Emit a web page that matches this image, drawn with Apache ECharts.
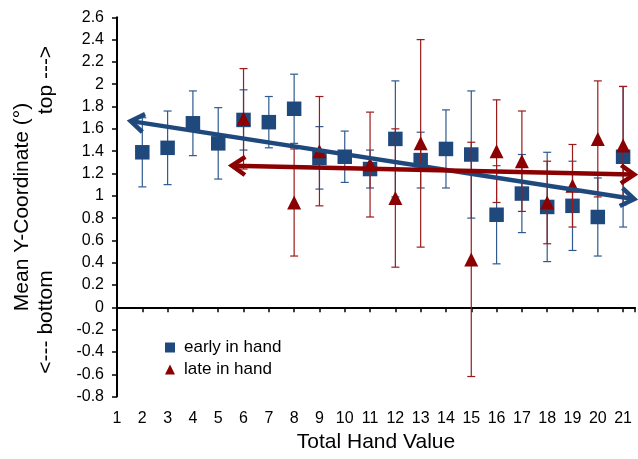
<!DOCTYPE html>
<html>
<head>
<meta charset="utf-8">
<script src="https://cdn.jsdelivr.net/npm/echarts@6/dist/echarts.min.js"></script>
<style>
html, body { margin: 0; padding: 0; background: #fff; }
#main { width: 638px; height: 459px; }
</style>
</head>
<body>
<div id="main"></div>
<script>
// values
var earlyHands = [2, 3, 4, 5, 6, 7, 8, 9, 10, 11, 12, 13, 14, 15, 16, 17, 18, 19, 20, 21];
var earlyMean = [1.39, 1.43, 1.65, 1.47, 1.68, 1.66, 1.78, 1.34, 1.35, 1.24, 1.51, 1.32, 1.42, 1.37, 0.83, 1.02, 0.90, 0.91, 0.81, 1.35];
var earlyErr = [0.31, 0.33, 0.29, 0.32, 0.27, 0.23, 0.31, 0.28, 0.23, 0.17, 0.52, 0.25, 0.35, 0.57, 0.44, 0.35, 0.49, 0.40, 0.35, 0.63];

var lateHands = [6, 8, 9, 11, 12, 13, 15, 16, 17, 18, 19, 20, 21];
var lateMean = [1.69, 0.94, 1.40, 1.28, 0.98, 1.47, 0.43, 1.40, 1.31, 0.94, 1.09, 1.51, 1.45];
var lateErr = [0.45, 0.48, 0.49, 0.47, 0.62, 0.93, 1.05, 0.46, 0.45, 0.37, 0.37, 0.52, 0.53];

// trend lines (x1, y1, x2, y2), drawn with arrow heads on both ends
var earlyTrend = [1.54, 1.67, 21.44, 0.97];
var lateTrend = [5.54, 1.27, 21.44, 1.19];

var FONT = 'Liberation Sans, Arial, sans-serif';
var BLUE = '#1F497D';
var RED = '#8B0000';

var chart = echarts.init(document.getElementById('main'));

function zip3(xs, ms, es) {
    var out = [];
    for (var i = 0; i < xs.length; i++) out.push([xs[i], ms[i], es[i]]);
    return out;
}

function errorBars(color) {
    return function (params, api) {
        var x = api.value(0), m = api.value(1), e = api.value(2);
        var top = api.coord([x, m + e]);
        var bot = api.coord([x, m - e]);
        var st = { stroke: color, lineWidth: 1.2 };
        return {
            type: 'group',
            children: [
                { type: 'line', shape: { x1: top[0], y1: top[1], x2: bot[0], y2: bot[1] }, style: st },
                { type: 'line', shape: { x1: top[0] - 4, y1: top[1], x2: top[0] + 4, y2: top[1] }, style: st },
                { type: 'line', shape: { x1: bot[0] - 4, y1: bot[1], x2: bot[0] + 4, y2: bot[1] }, style: st }
            ]
        };
    };
}

function arrowLine(color) {
    return function (params, api) {
        var p1 = api.coord([api.value(0), api.value(1)]);
        var p2 = api.coord([api.value(2), api.value(3)]);
        var dx = p2[0] - p1[0], dy = p2[1] - p1[1];
        var len = Math.sqrt(dx * dx + dy * dy);
        var ux = dx / len, uy = dy / len;
        var L = 16, a = 0.6;
        function head(tip, dirx, diry) {
            var c = Math.cos(a), s = Math.sin(a);
            var ax = dirx * c - diry * s, ay = dirx * s + diry * c;
            var bx = dirx * c + diry * s, by = -dirx * s + diry * c;
            return {
                type: 'polyline',
                shape: { points: [[tip[0] + ax * L, tip[1] + ay * L], tip, [tip[0] + bx * L, tip[1] + by * L]] },
                style: { stroke: color, lineWidth: 4.5, fill: null, lineJoin: 'miter' }
            };
        }
        return {
            type: 'group',
            children: [
                { type: 'line', shape: { x1: p1[0] + ux * 2, y1: p1[1] + uy * 2, x2: p2[0] - ux * 2, y2: p2[1] - uy * 2 },
                  style: { stroke: color, lineWidth: 4.5 } },
                head(p1, ux, uy),
                head(p2, -ux, -uy)
            ]
        };
    };
}

var option = {
    animation: false,
    backgroundColor: '#fff',
    textStyle: { fontFamily: FONT },
    grid: { left: 117, right: 0, top: 17.3, bottom: 62.4, containLabel: false },
    legend: {
        orient: 'vertical',
        left: 160,
        top: 334,
        itemWidth: 10,
        itemHeight: 10,
        itemGap: 5,
        textStyle: { fontFamily: FONT, fontSize: 17, color: '#000', padding: [0, 0, 0, 4] },
        data: [
            { name: 'early in hand', icon: 'rect' },
            { name: 'late in hand', icon: 'triangle' }
        ]
    },
    xAxis: [
        {
            // line at zero with ticks
            type: 'value', position: 'top', min: 1, max: 21.47, interval: 1,
            axisLine: { onZero: true, lineStyle: { color: '#000', width: 2 } },
            axisTick: { show: true, inside: true, length: 5, lineStyle: { color: '#000', width: 1.5 } },
            axisLabel: { show: false },
            splitLine: { show: false }
        },
        {
            // labels along the bottom
            type: 'value', position: 'bottom', min: 1, max: 21.47, interval: 1,
            axisLine: { show: false, onZero: false },
            axisTick: { show: false },
            splitLine: { show: false },
            axisLabel: {
                fontFamily: FONT, fontSize: 16, color: '#000', margin: 14,
                formatter: function (v) { return Math.abs(v - Math.round(v)) < 1e-6 ? String(Math.round(v)) : ''; }
            },
            name: 'Total Hand Value',
            nameLocation: 'middle',
            nameGap: 34,
            nameTextStyle: { fontFamily: FONT, fontSize: 21, color: '#000' }
        }
    ],
    yAxis: {
        type: 'value', min: -0.8, max: 2.6, interval: 0.2,
        axisLine: { show: true, onZero: false, lineStyle: { color: '#000', width: 2 } },
        axisTick: { show: true, length: 5, lineStyle: { color: '#000', width: 1.5 } },
        axisLabel: {
            fontFamily: FONT, fontSize: 16, color: '#000', margin: 13,
            formatter: function (v) { return String(Math.round(v * 10) / 10); }
        },
        splitLine: { show: false }
    },
    graphic: [
        { type: 'text', x: 22, y: 207, rotation: Math.PI / 2,
          style: { text: 'Mean Y-Coordinate (°)', font: '21px ' + FONT, fill: '#000', align: 'center', verticalAlign: 'middle' } },
        { type: 'text', x: 46, y: 80, rotation: Math.PI / 2,
          style: { text: 'top --->', font: '21px ' + FONT, fill: '#000', align: 'center', verticalAlign: 'middle' } },
        { type: 'text', x: 46, y: 322, rotation: Math.PI / 2,
          style: { text: '<--- bottom', font: '21px ' + FONT, fill: '#000', align: 'center', verticalAlign: 'middle' } }
    ],
    series: [
        { type: 'custom', name: 'early err', xAxisIndex: 0, z: 2, silent: true,
          renderItem: errorBars('#2F5A8E'), data: zip3(earlyHands, earlyMean, earlyErr) },
        { type: 'scatter', name: 'early in hand', xAxisIndex: 0, z: 3, symbol: 'rect', symbolSize: 14.5,
          itemStyle: { color: BLUE, opacity: 1 },
          data: earlyHands.map(function (h, i) { return [h, earlyMean[i]]; }) },
        { type: 'custom', name: 'late err', xAxisIndex: 0, z: 4, silent: true,
          renderItem: errorBars('#9B1B1B'), data: zip3(lateHands, lateMean, lateErr) },
        { type: 'scatter', name: 'late in hand', xAxisIndex: 0, z: 5, symbol: 'triangle', symbolSize: [14, 14],
          itemStyle: { color: RED, opacity: 1 },
          data: lateHands.map(function (h, i) { return [h, lateMean[i]]; }) },
        { type: 'custom', name: 'early trend', xAxisIndex: 0, z: 6, silent: true, clip: false,
          encode: { x: [0, 2], y: [1, 3] },
          renderItem: arrowLine(BLUE), data: [earlyTrend] },
        { type: 'custom', name: 'late trend', xAxisIndex: 0, z: 7, silent: true, clip: false,
          encode: { x: [0, 2], y: [1, 3] },
          renderItem: arrowLine(RED), data: [lateTrend] }
    ]
};

chart.setOption(option);
</script>
</body>
</html>
